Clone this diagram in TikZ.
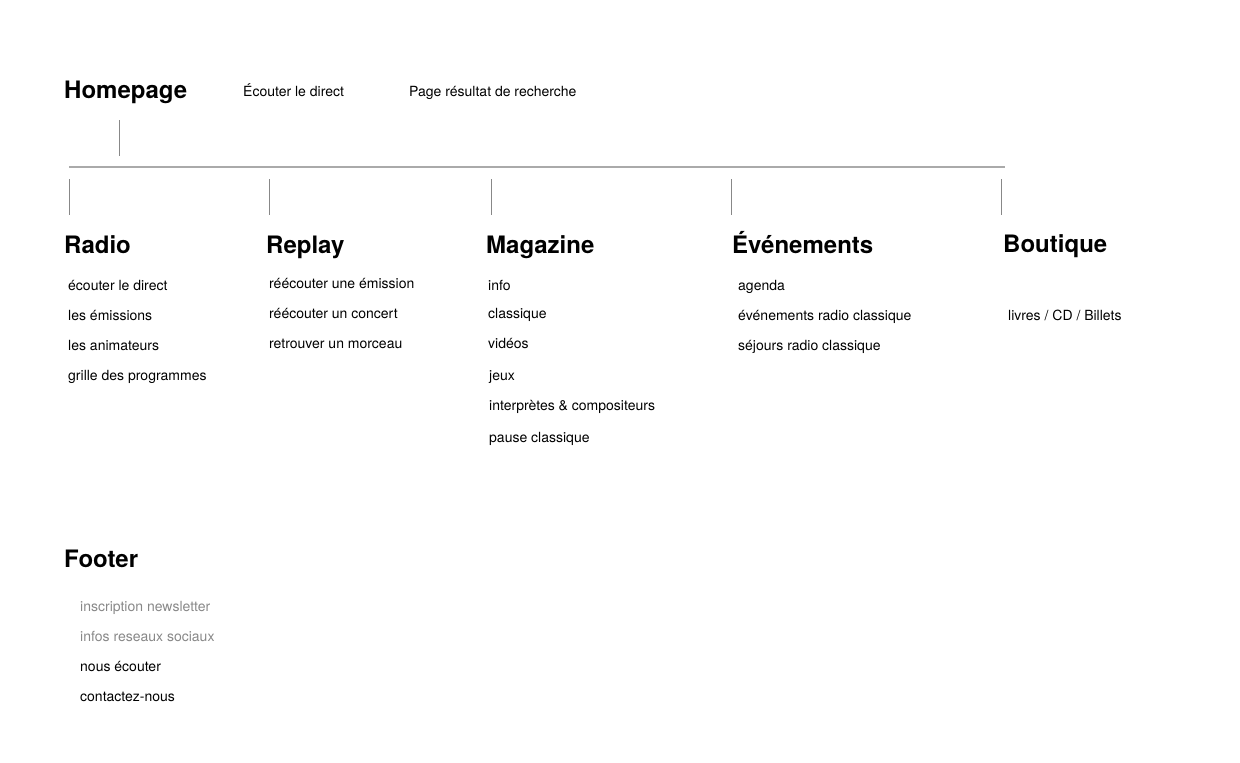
\documentclass[tikz,border=0pt]{standalone}
\usepackage{fontspec}
\setmainfont{TeX Gyre Heros}
\definecolor{linegray}{HTML}{888888}
\definecolor{bargray}{HTML}{AAAAAA}
\definecolor{softgray}{HTML}{888888}
\tikzset{
  head/.style={anchor=base west, inner sep=0pt, font=\fontsize{24}{28}\selectfont\bfseries},
  item/.style={anchor=base west, inner sep=0pt, font=\fontsize{14}{17}\selectfont},
  graytext/.style={item, text=softgray},
  tick/.style={draw=linegray, line width=1pt},
  bar/.style={draw=bargray, line width=1.4pt}
}
\begin{document}
\begin{tikzpicture}[x=1pt,y=-1pt]
\useasboundingbox (0,0) rectangle (1240,763);
% top row
\node[head] (home) at (64,98) {Homepage};
\node[item] (direct) at (243,96) {Écouter le direct};
\node[item] (search) at (409,96) {Page résultat de recherche};
% connectors
\coordinate (h1) at (119,120);
\coordinate (h2) at (119,156);
\coordinate (bl) at (69,167);
\coordinate (br) at (1005,167);
\draw[tick] (h1) -- (h2);
\draw[bar] (bl) -- (br);
\foreach \x/\n in {69/a,269/b,491/c,731/d,1001/e}{
  \coordinate (t\n) at (\x,179);
  \coordinate (u\n) at (\x,215);
  \draw[tick] (t\n) -- (u\n);
}
% Radio
\node[head] (radio) at (64,253) {Radio};
\node[item] (r1) at (68,290) {écouter le direct};
\node[item] (r2) at (68,320) {les émissions};
\node[item] (r3) at (68,350) {les animateurs};
\node[item] (r4) at (68,380) {grille des programmes};
% Replay
\node[head] (replay) at (266,253) {Replay};
\node[item] (p1) at (269,288) {réécouter une émission};
\node[item] (p2) at (269,318) {réécouter un concert};
\node[item] (p3) at (269,348) {retrouver un morceau};
% Magazine
\node[head] (mag) at (486,253) {Magazine};
\node[item] (m1) at (488,290) {info};
\node[item] (m2) at (488,318) {classique};
\node[item] (m3) at (488,348) {vidéos};
\node[item] (m4) at (489,380) {jeux};
\node[item] (m5) at (489,410) {interprètes \& compositeurs};
\node[item] (m6) at (489,442) {pause classique};
% Evenements
\node[head] (ev) at (732,253) {Événements};
\node[item] (e1) at (738,290) {agenda};
\node[item] (e2) at (738,320) {événements radio classique};
\node[item] (e3) at (738,350) {séjours radio classique};
% Boutique
\node[head] (bout) at (1003,252) {Boutique};
\node[item] (b1) at (1008,320) {livres / CD / Billets};
% Footer
\node[head] (foot) at (64,567) {Footer};
\node[graytext] (f1) at (80,611) {inscription newsletter};
\node[graytext] (f2) at (80,641) {infos reseaux sociaux};
\node[item] (f3) at (80,671) {nous écouter};
\node[item] (f4) at (80,701) {contactez-nous};
\end{tikzpicture}
\end{document}
